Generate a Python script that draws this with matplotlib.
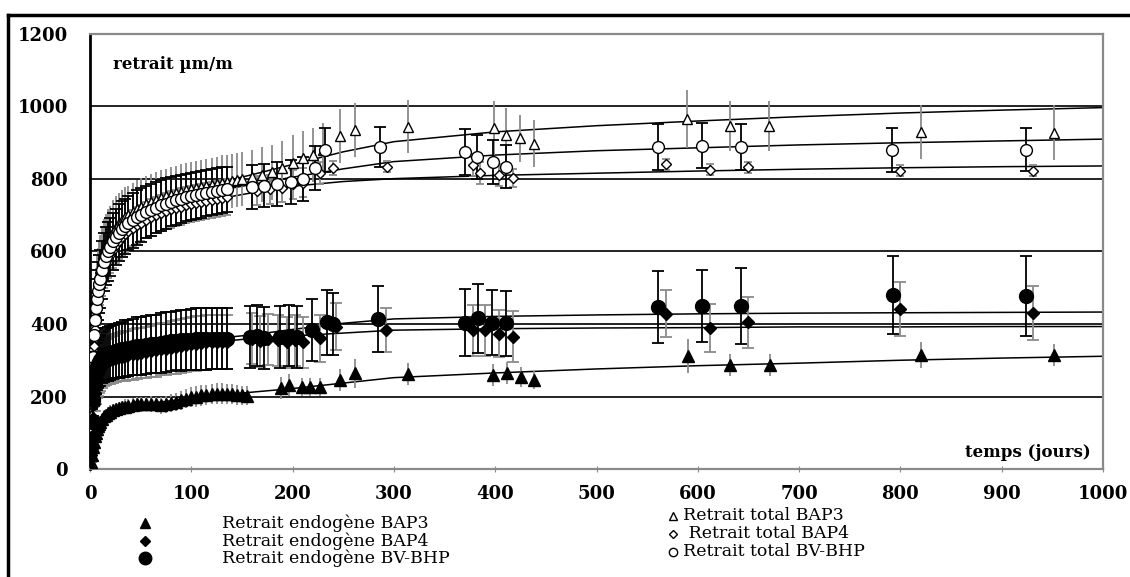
import matplotlib
matplotlib.use("Agg")
import matplotlib.pyplot as plt
from matplotlib.lines import Line2D

plt.rcParams['font.family'] = ['DejaVu Serif']

# --- data (days, micro-strain) ---
# retrait endogene BAP3 (filled triangles)
endo_bap3_days = [1, 2, 3, 4, 5, 6, 7, 8, 9, 10, 12, 14, 16, 18, 20, 23, 26, 29, 32, 35, 38, 42, 46, 50,
                  55, 60, 65, 70, 75, 80, 85, 90, 95, 100, 105, 110, 115, 120, 125, 130, 135, 140, 145, 150, 155,
                  189, 196, 209, 217, 227, 247, 262, 314, 398, 412, 425, 438, 590, 632, 671, 820, 952]
endo_bap3_vals = [20, 40, 60, 75, 90, 100, 110, 118, 125, 130, 138, 145, 150, 155, 158, 162, 165, 168, 170, 172, 174, 176, 178, 178,
                  180, 180, 178, 176, 178, 182, 186, 190, 194, 198, 200, 203, 205, 207, 208, 208, 207, 206, 205, 203, 202,
                  224, 232, 227, 227, 227, 245, 264, 262, 259, 265, 254, 246, 312, 287, 287, 314, 314]
endo_bap3_err = [8, 10, 10, 12, 12, 12, 14, 14, 15, 15, 15, 16, 16, 16, 18, 18, 18, 18, 18, 20, 20, 20, 20, 20,
                 20, 22, 22, 24, 24, 25, 25, 26, 26, 28, 28, 28, 28, 28, 28, 28, 28, 28, 28, 26, 26,
                 30, 30, 25, 25, 25, 30, 40, 30, 30, 30, 28, 25, 48, 30, 30, 35, 30]

# retrait endogene BAP4 (filled diamonds)
endo_bap4_days = [1, 2, 3, 4, 5, 6, 7, 8, 9, 10, 12, 14, 16, 18, 20, 23, 26, 29, 32, 35, 38, 42, 46, 50,
                  55, 60, 65, 70, 75, 80, 85, 90, 95, 100, 105, 110, 115, 120, 125, 130, 135,
                  160, 168, 176, 186, 194, 202, 210, 227, 243, 292, 378, 390, 404, 418, 569, 612, 650, 800, 931]
endo_bap4_vals = [40, 90, 140, 180, 210, 235, 250, 262, 270, 276, 285, 290, 295, 298, 300, 303, 306, 308, 310, 312, 314, 316, 318, 320,
                  322, 325, 327, 330, 332, 335, 337, 340, 342, 344, 346, 348, 349, 350, 350, 350, 350,
                  360, 352, 358, 355, 350, 355, 350, 361, 393, 383, 383, 383, 373, 365, 428, 389, 405, 441, 430]
endo_bap4_err = [20, 30, 40, 45, 50, 55, 55, 60, 60, 60, 62, 62, 64, 64, 65, 65, 66, 66, 68, 68, 68, 70, 70, 70,
                 70, 70, 72, 72, 72, 72, 74, 74, 74, 75, 75, 75, 75, 75, 75, 75, 75,
                 70, 70, 70, 70, 70, 70, 70, 65, 65, 60, 70, 70, 65, 70, 65, 65, 70, 75, 75]

# retrait endogene BV-BHP (filled circles)
endo_bv_days = [1, 2, 3, 4, 5, 6, 7, 8, 9, 10, 12, 14, 16, 18, 20, 23, 26, 29, 32, 35, 38, 42, 46, 50,
                55, 60, 65, 70, 75, 80, 85, 90, 95, 100, 105, 110, 115, 120, 125, 130, 135,
                158, 165, 172, 188, 196, 204, 219, 234, 240, 284, 370, 383, 397, 411, 561, 604, 643, 793, 924]
endo_bv_vals = [60, 130, 190, 230, 255, 270, 282, 290, 296, 300, 308, 312, 316, 318, 320, 323, 326, 328, 330, 332, 334, 336, 338, 340,
                342, 344, 346, 348, 350, 352, 354, 355, 356, 357, 358, 358, 359, 360, 360, 360, 360,
                365, 368, 362, 365, 368, 365, 384, 405, 400, 414, 404, 416, 404, 402, 447, 449, 449, 480, 477]
endo_bv_err = [25, 35, 45, 55, 60, 62, 65, 66, 68, 70, 70, 72, 72, 74, 74, 75, 75, 76, 76, 78, 78, 78, 80, 80,
               80, 80, 80, 82, 82, 82, 82, 84, 84, 84, 85, 85, 85, 85, 85, 85, 85,
               85, 85, 85, 85, 85, 85, 85, 90, 85, 90, 93, 95, 90, 90, 100, 100, 105, 108, 110]

# retrait total BAP3 (open triangles)
tot_bap3_days = [1, 2, 3, 4, 5, 6, 7, 8, 9, 10, 12, 14, 16, 18, 20, 23, 26, 29, 32, 35, 38, 42, 46, 50,
                 55, 60, 65, 70, 75, 80, 85, 90, 95, 100, 105, 110, 115, 120, 125, 130, 135, 140, 145, 150,
                 160, 170, 180, 190, 200, 210, 220, 230, 247, 262, 314, 399, 411, 424, 438, 589, 632, 670, 820, 952]
tot_bap3_vals = [150, 260, 340, 400, 440, 470, 500, 520, 540, 555, 580, 600, 615, 628, 640, 655, 668, 678, 688, 695, 702, 710, 717, 723,
                 730, 737, 742, 748, 752, 757, 761, 765, 769, 772, 775, 778, 781, 784, 787, 790, 792, 795, 797, 800,
                 805, 812, 818, 830, 845, 858, 866, 880, 918, 935, 944, 940, 921, 912, 897, 966, 946, 946, 930, 928]
tot_bap3_err = [40, 60, 70, 80, 85, 85, 90, 90, 90, 90, 90, 90, 88, 88, 86, 86, 84, 84, 82, 82, 80, 80, 80, 80,
                78, 78, 78, 76, 76, 76, 75, 75, 75, 75, 75, 75, 75, 75, 75, 75, 75, 75, 75, 75,
                75, 75, 75, 75, 75, 75, 75, 75, 75, 75, 73, 75, 75, 65, 65, 80, 70, 70, 75, 75]

# retrait total BAP4 (open diamonds)
tot_bap4_days = [1, 2, 3, 4, 5, 6, 7, 8, 9, 10, 12, 14, 16, 18, 20, 23, 26, 29, 32, 35, 38, 42, 46, 50,
                 55, 60, 65, 70, 75, 80, 85, 90, 95, 100, 105, 110, 115, 120, 125, 130, 135,
                 165, 178, 190, 200, 210, 227, 240, 293, 378, 385, 404, 418, 569, 612, 650, 800, 931]
tot_bap4_vals = [100, 200, 280, 340, 385, 420, 447, 470, 488, 503, 528, 548, 565, 578, 590, 605, 618, 630, 640, 648, 656, 665, 672, 679,
                 687, 694, 700, 706, 711, 716, 720, 724, 728, 731, 734, 737, 740, 742, 745, 747, 750,
                 768, 772, 776, 785, 790, 816, 830, 834, 839, 816, 811, 802, 840, 825, 832, 823, 823]
tot_bap4_err = [30, 40, 45, 50, 50, 50, 50, 50, 50, 50, 50, 50, 50, 50, 50, 50, 50, 50, 50, 50, 50, 50, 50, 50,
                50, 50, 50, 50, 50, 50, 50, 50, 50, 50, 50, 50, 50, 50, 50, 50, 50,
                40, 40, 40, 40, 40, 30, 20, 15, 30, 30, 30, 25, 15, 15, 15, 15, 15]

# retrait total BV-BHP (open circles)
tot_bv_days = [1, 2, 3, 4, 5, 6, 7, 8, 9, 10, 12, 14, 16, 18, 20, 23, 26, 29, 32, 35, 38, 42, 46, 50,
               55, 60, 65, 70, 75, 80, 85, 90, 95, 100, 105, 110, 115, 120, 125, 130, 135,
               160, 172, 185, 198, 210, 222, 232, 286, 370, 382, 398, 411, 561, 604, 643, 792, 924]
tot_bv_vals = [120, 230, 310, 370, 410, 445, 470, 492, 510, 525, 550, 570, 588, 600, 612, 628, 640, 652, 662, 670, 678, 686, 694, 700,
               708, 715, 721, 727, 732, 737, 741, 745, 749, 752, 755, 758, 761, 764, 767, 770, 772,
               778, 782, 786, 792, 800, 830, 880, 889, 875, 861, 847, 834, 889, 892, 889, 880, 881]
tot_bv_err = [40, 55, 65, 70, 75, 78, 80, 80, 80, 80, 80, 80, 80, 80, 80, 78, 78, 78, 76, 76, 75, 75, 75, 75,
              72, 72, 70, 70, 70, 68, 68, 66, 66, 65, 65, 65, 64, 64, 63, 63, 62,
              60, 60, 60, 60, 60, 60, 60, 55, 64, 60, 60, 60, 63, 63, 63, 60, 60]

# fitted curves
fit_days = [0, 1, 2, 4, 7, 10, 15, 20, 30, 45, 60, 80, 100, 130, 160, 200, 250, 300, 400, 500, 600, 700, 800, 900, 1000]
fit_tot_bap3 = [0, 150, 260, 400, 500, 555, 610, 640, 685, 715, 737, 757, 772, 792, 812, 840, 875, 903, 930, 947, 960, 972, 982, 990, 997]
fit_tot_bv = [0, 120, 230, 370, 470, 525, 585, 612, 652, 690, 715, 737, 752, 770, 785, 805, 828, 848, 866, 878, 886, 894, 900, 905, 910]
fit_tot_bap4 = [0, 100, 200, 340, 447, 503, 560, 590, 630, 668, 694, 716, 731, 747, 762, 780, 793, 801, 810, 816, 822, 827, 831, 834, 836]
fit_endo_bv = [0, 60, 130, 230, 282, 300, 314, 320, 328, 337, 344, 352, 357, 362, 370, 385, 402, 414, 421, 425, 428, 430, 431, 432, 433]
fit_endo_bap4 = [0, 40, 90, 180, 250, 276, 292, 300, 308, 317, 325, 335, 344, 352, 360, 367, 375, 383, 387, 389, 390, 392, 392, 393, 393]
fit_endo_bap3 = [0, 20, 40, 75, 110, 130, 148, 158, 168, 177, 182, 188, 195, 204, 212, 222, 237, 252, 265, 276, 285, 292, 300, 306, 311]

legend_left = ["Retrait endogène BAP3", "Retrait endogène BAP4", "Retrait endogène BV-BHP"]
legend_right = ["Retrait total BAP3", " Retrait total BAP4", "Retrait total BV-BHP"]

GREY = "#8a8a8a"

fig = plt.figure(figsize=(11.3, 5.77), dpi=100)
ax = fig.add_axes([90 / 1130, 1 - 469 / 577, 1013 / 1130, 435 / 577])

# grid lines
for yv in [200, 400, 600, 800, 1000]:
    ax.axhline(yv, color="#222222", lw=1.4, zorder=1)

# fit curves
for fit in [fit_tot_bap3, fit_tot_bv, fit_tot_bap4, fit_endo_bv, fit_endo_bap4, fit_endo_bap3]:
    ax.plot(fit_days, fit, color="black", lw=1.1, zorder=2)

# (days, vals, err, marker, size, filled, errcolor, capsize)
series = [
    (tot_bap3_days, tot_bap3_vals, tot_bap3_err, "^", 7.5, False, GREY, 0),
    (tot_bap4_days, tot_bap4_vals, tot_bap4_err, "D", 5, False, GREY, 3),
    (tot_bv_days, tot_bv_vals, tot_bv_err, "o", 8.5, False, "black", 4),
    (endo_bap3_days, endo_bap3_vals, endo_bap3_err, "^", 8, True, GREY, 0),
    (endo_bap4_days, endo_bap4_vals, endo_bap4_err, "D", 6, True, GREY, 4),
    (endo_bv_days, endo_bv_vals, endo_bv_err, "o", 10, True, "black", 4),
]
for d, v, e, m, ms, filled, ec, cs in series:
    ax.errorbar(d, v, yerr=e, fmt="none", ecolor=ec, elinewidth=1.3, capsize=cs, capthick=1.3, zorder=3)
    ax.plot(d, v, linestyle="none", marker=m, markersize=ms,
            markerfacecolor="black" if filled else "white", markeredgecolor="black",
            markeredgewidth=1.0, zorder=4)

ax.set_xlim(0, 1000)
ax.set_ylim(0, 1200)
ax.set_xticks(range(0, 1001, 100))
ax.set_yticks(range(0, 1201, 200))
ax.tick_params(axis="x", direction="inout", length=5, color=GREY, pad=9, labelsize=13)
ax.tick_params(axis="y", length=0, pad=16, labelsize=13)
for lab in ax.get_xticklabels() + ax.get_yticklabels():
    lab.set_fontweight("bold")

ax.spines["left"].set_color("black")
ax.spines["left"].set_linewidth(2)
for s in ["top", "right", "bottom"]:
    ax.spines[s].set_color(GREY)
    ax.spines[s].set_linewidth(1.6)

ax.text(0.023, 0.93, "retrait µm/m", transform=ax.transAxes, fontsize=12,
        fontweight="bold", va="center", ha="left")
ax.text(0.988, 0.037, "temps (jours)", transform=ax.transAxes, fontsize=12,
        fontweight="bold", va="center", ha="right")

# figure frame (top and left edges)
fig.add_artist(Line2D([8 / 1130, 8 / 1130], [0, 1 - 15 / 577], transform=fig.transFigure, color="black", lw=2.5))
fig.add_artist(Line2D([8 / 1130, 1], [1 - 15 / 577, 1 - 15 / 577], transform=fig.transFigure, color="black", lw=2.5))

# legend below the axes
left_marks = [("^", 7.5), ("D", 5.5), ("o", 9)]
right_marks = [("^", 6), ("D", 4.5), ("o", 6)]
left_y = [523, 541, 558]
right_y = [516, 534, 552]
for (m, ms), txt, yp in zip(left_marks, legend_left, left_y):
    fig.add_artist(Line2D([145 / 1130], [1 - yp / 577], transform=fig.transFigure, marker=m,
                          markersize=ms, color="black", linestyle="none"))
    fig.text(222 / 1130, 1 - yp / 577, txt, fontsize=12.5, va="center", ha="left")
for (m, ms), txt, yp in zip(right_marks, legend_right, right_y):
    fig.add_artist(Line2D([673 / 1130], [1 - yp / 577], transform=fig.transFigure, marker=m,
                          markersize=ms, markerfacecolor="white", markeredgecolor="black",
                          linestyle="none"))
    fig.text(683 / 1130, 1 - yp / 577, txt, fontsize=12.5, va="center", ha="left")

fig.savefig("out.png", dpi=100)
